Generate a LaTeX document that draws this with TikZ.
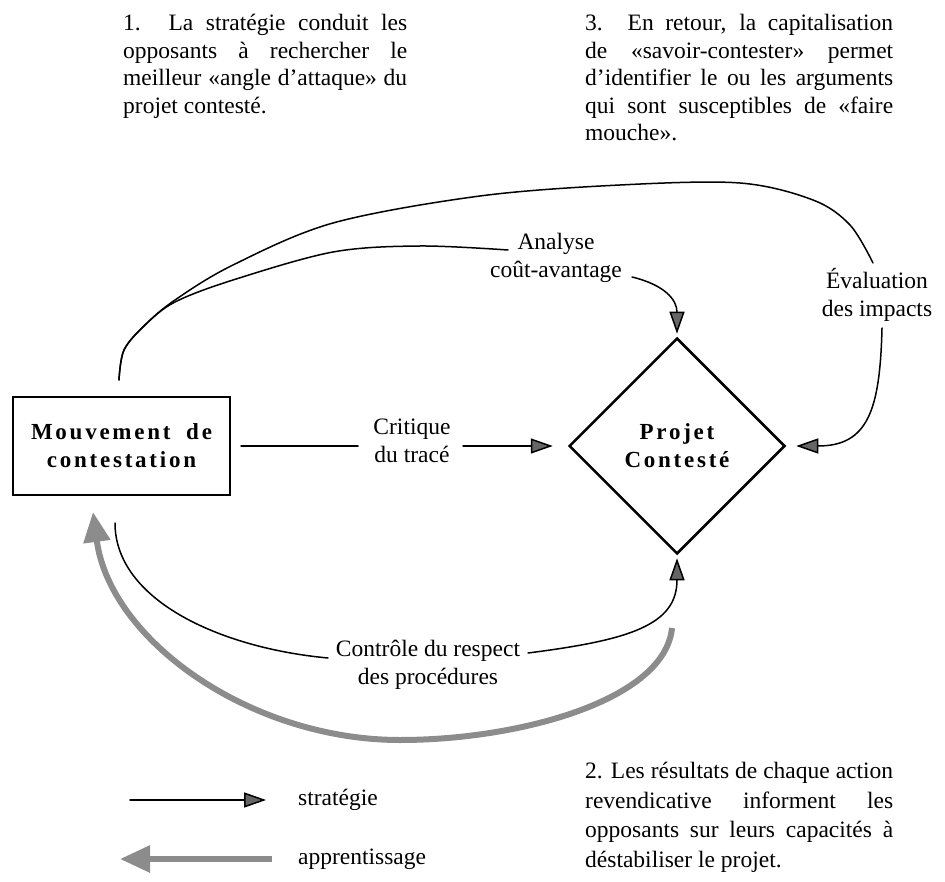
\documentclass[tikz,border=0pt]{standalone}
\usepackage{fontspec}
\setmainfont{Liberation Serif}
\newfontfamily\spacedfont[LetterSpace=12]{Liberation Serif}
\usetikzlibrary{arrows.meta,shapes.geometric}
\newcommand\jline[2]{\makebox[#1][s]{#2}}
\begin{document}
\begin{tikzpicture}[x=1pt,y=1pt,
  txt/.style={font=\fontsize{23.5}{27.5}\selectfont, inner sep=0pt},
  para/.style={txt, align=left, anchor=north west},
  bold/.style={font=\fontsize{23}{28}\selectfont\spacedfont\bfseries},
  conn/.style={line width=1.5pt, line cap=round},
  harrow/.style={conn, -{Triangle[length=22pt,width=15pt,fill=black!60]}},
  learn/.style={draw=black!45, line width=6pt, -{Triangle[length=30pt,width=26pt,fill=black!45]}},
]
\useasboundingbox (0,0) rectangle (945,-882);

% text blocks
\node[para] (t1) at (123,-14) {\jline{284pt}{1. La stratégie conduit les}\\
\jline{284pt}{opposants à rechercher le}\\
\jline{284pt}{meilleur «angle d’attaque» du}\\
projet contesté.};
\node[para] (t3) at (585,-14) {\jline{308pt}{3. En retour, la capitalisation}\\
\jline{308pt}{de «savoir-contester» permet}\\
\jline{308pt}{d’identifier le ou les arguments}\\
\jline{308pt}{qui sont susceptibles de «faire}\\
mouche».};
\node[para, font=\fontsize{23.5}{29.5}\selectfont] (t2) at (585,-762) {\jline{308pt}{2. Les résultats de chaque action}\\
\jline{308pt}{revendicative informent les}\\
\jline{308pt}{opposants sur leurs capacités à}\\
déstabiliser le projet.};

% main nodes
\node[draw, line width=2pt, minimum width=217pt, minimum height=97pt, align=center, bold] (box) at (121.5,-446) {\jline{181pt}{Mouvement de}\\contestation};
\node[diamond, draw, line width=2.5pt, minimum width=216pt, minimum height=216pt, inner sep=0pt, align=center, bold] (proj) at (677,-446) {Projet\\Contesté};

% labels
\node[txt, align=center] (crit) at (412,-441) {Critique\\du tracé};
\node[txt, align=center] (ana) at (556,-258) {Analyse\\coût-avantage};
\node[txt, align=center] (eva) at (877,-295) {Évaluation\\des impacts};
\node[txt, align=center] (ctrl) at (428,-665) {Contrôle du respect\\des procédures};

% coordinates
\coordinate (c1) at (358,-446);
\coordinate (c2) at (463,-446);
\coordinate (s0) at (119,-380);
\coordinate (a1) at (632,-277);
\coordinate (e1) at (882,-328);
\coordinate (k0) at (115,-523);
\coordinate (k1) at (328,-658);
\coordinate (k2) at (528,-653);
\coordinate (g0) at (672,-628);
\coordinate (gb) at (400,-740);
\coordinate (gt) at (93,-512);

% critique
\draw[conn] ([xshift=10pt]box.east) -- (c1);
\draw[harrow] (c2) -- ([xshift=-15pt]proj.west);

% top curves
\draw[conn] plot[smooth, tension=0.55] coordinates {(s0) (124,-350) (145,-325) (175,-300) (233,-265) (333,-223) (480,-196) (620,-185) (740,-183) (813,-200) (850,-225) (873,-263)};
\draw[conn] plot[smooth, tension=0.55] coordinates {(s0) (124,-350) (145,-325) (175,-302) (233,-280) (333,-252) (420,-246) (508,-250)};

% analyse arrow
\draw[harrow] (a1) .. controls (665,-285) and (677,-300) .. ([yshift=3pt]proj.north);
% evaluation arrow
\draw[harrow] (e1) .. controls (880,-410) and (868,-446) .. ([xshift=10pt]proj.east);

% controle
\draw[conn] (k0) .. controls (115,-600) and (220,-648) .. (k1);
\draw[harrow] (k2) .. controls (630,-640) and (677,-625) .. ([yshift=-3pt]proj.south);

% learning arc
\draw[learn] (g0) .. controls (665,-700) and (520,-740) .. (gb)
  .. controls (250,-740) and (110,-640) .. (gt);

% legend
\node[txt, anchor=west] (ls) at (298,-800) {stratégie};
\node[txt, anchor=west] (la) at (298,-859) {apprentissage};
\coordinate (l1) at (130,-800);
\coordinate (l2) at (120,-859);
\draw[harrow] (l1) -- ([xshift=-32pt]ls.west);
\draw[learn] ([xshift=-26pt]la.west) -- (l2);
\end{tikzpicture}
\end{document}
